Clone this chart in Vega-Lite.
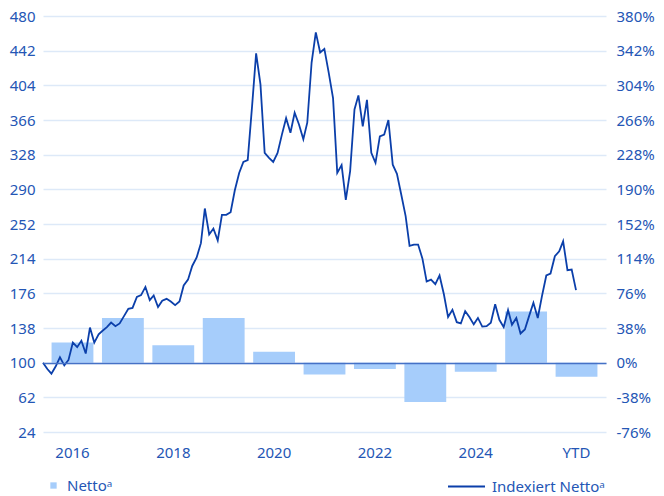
{
  "$schema": "https://vega.github.io/schema/vega-lite/v6.json",
  "width": 563,
  "height": 416,
  "autosize": {"type": "none"},
  "padding": {"left": 43, "top": 16, "right": 58, "bottom": 64},
  "background": "white",
  "config": {
    "font": "Noto Sans",
    "view": {"stroke": null},
    "axis": {"labelFont": "Noto Sans", "labelFontSize": 15, "labelColor": "#2456b5", "ticks": false, "tickSize": 0, "domain": false, "title": null, "labelOverlap": false},
    "legend": {"labelFont": "Noto Sans", "labelFontSize": 15, "labelColor": "#2456b5", "padding": 0, "title": null}
  },
  "datasets": {
    "bars": [
      {"year": "2016", "netto": 22},
      {"year": "2017", "netto": 49},
      {"year": "2018", "netto": 19},
      {"year": "2019", "netto": 49},
      {"year": "2020", "netto": 12},
      {"year": "2021", "netto": -13},
      {"year": "2022", "netto": -7},
      {"year": "2023", "netto": -43},
      {"year": "2024", "netto": -10},
      {"year": "2025", "netto": 56},
      {"year": "YTD", "netto": -15.5}
    ],
    "line": [
      {"date": "2016-01-01", "index": 100},
      {"date": "2016-02-01", "index": 93},
      {"date": "2016-03-01", "index": 88},
      {"date": "2016-04-01", "index": 96},
      {"date": "2016-05-01", "index": 106},
      {"date": "2016-06-01", "index": 97},
      {"date": "2016-07-01", "index": 103},
      {"date": "2016-08-01", "index": 122},
      {"date": "2016-09-01", "index": 117},
      {"date": "2016-10-01", "index": 124},
      {"date": "2016-11-01", "index": 110},
      {"date": "2016-12-01", "index": 138.5},
      {"date": "2017-01-01", "index": 122},
      {"date": "2017-02-01", "index": 131},
      {"date": "2017-03-01", "index": 135},
      {"date": "2017-04-01", "index": 139},
      {"date": "2017-05-01", "index": 144},
      {"date": "2017-06-01", "index": 140},
      {"date": "2017-07-01", "index": 143},
      {"date": "2017-08-01", "index": 151},
      {"date": "2017-09-01", "index": 159},
      {"date": "2017-10-01", "index": 160},
      {"date": "2017-11-01", "index": 172},
      {"date": "2017-12-01", "index": 174},
      {"date": "2018-01-01", "index": 183},
      {"date": "2018-02-01", "index": 168.5},
      {"date": "2018-03-01", "index": 173.6},
      {"date": "2018-04-01", "index": 161},
      {"date": "2018-05-01", "index": 168},
      {"date": "2018-06-01", "index": 170},
      {"date": "2018-07-01", "index": 167},
      {"date": "2018-08-01", "index": 163},
      {"date": "2018-09-01", "index": 167},
      {"date": "2018-10-01", "index": 184.6},
      {"date": "2018-11-01", "index": 191},
      {"date": "2018-12-01", "index": 206},
      {"date": "2019-01-01", "index": 215},
      {"date": "2019-02-01", "index": 231},
      {"date": "2019-03-01", "index": 269},
      {"date": "2019-04-01", "index": 240.5},
      {"date": "2019-05-01", "index": 247},
      {"date": "2019-06-01", "index": 234},
      {"date": "2019-07-01", "index": 262},
      {"date": "2019-08-01", "index": 262},
      {"date": "2019-09-01", "index": 265},
      {"date": "2019-10-01", "index": 289},
      {"date": "2019-11-01", "index": 308},
      {"date": "2019-12-01", "index": 320},
      {"date": "2020-01-01", "index": 322},
      {"date": "2020-02-01", "index": 381},
      {"date": "2020-03-01", "index": 439},
      {"date": "2020-04-01", "index": 405},
      {"date": "2020-05-01", "index": 330},
      {"date": "2020-06-01", "index": 324.5},
      {"date": "2020-07-01", "index": 320},
      {"date": "2020-08-01", "index": 330},
      {"date": "2020-09-01", "index": 350},
      {"date": "2020-10-01", "index": 368},
      {"date": "2020-11-01", "index": 352},
      {"date": "2020-12-01", "index": 374},
      {"date": "2021-01-01", "index": 361},
      {"date": "2021-02-01", "index": 345},
      {"date": "2021-03-01", "index": 363},
      {"date": "2021-04-01", "index": 429},
      {"date": "2021-05-01", "index": 462},
      {"date": "2021-06-01", "index": 440},
      {"date": "2021-07-01", "index": 444},
      {"date": "2021-08-01", "index": 418},
      {"date": "2021-09-01", "index": 390},
      {"date": "2021-10-01", "index": 308},
      {"date": "2021-11-01", "index": 316.5},
      {"date": "2021-12-01", "index": 278.5},
      {"date": "2022-01-01", "index": 310},
      {"date": "2022-02-01", "index": 377.5},
      {"date": "2022-03-01", "index": 393},
      {"date": "2022-04-01", "index": 359},
      {"date": "2022-05-01", "index": 388},
      {"date": "2022-06-01", "index": 330},
      {"date": "2022-07-01", "index": 319},
      {"date": "2022-08-01", "index": 348},
      {"date": "2022-09-01", "index": 350},
      {"date": "2022-10-01", "index": 366},
      {"date": "2022-11-01", "index": 317},
      {"date": "2022-12-01", "index": 307},
      {"date": "2023-01-01", "index": 284},
      {"date": "2023-02-01", "index": 260.6},
      {"date": "2023-03-01", "index": 228},
      {"date": "2023-04-01", "index": 229.5},
      {"date": "2023-05-01", "index": 229.5},
      {"date": "2023-06-01", "index": 214},
      {"date": "2023-07-01", "index": 189},
      {"date": "2023-08-01", "index": 191},
      {"date": "2023-09-01", "index": 186},
      {"date": "2023-10-01", "index": 195.6},
      {"date": "2023-11-01", "index": 175},
      {"date": "2023-12-01", "index": 150},
      {"date": "2024-01-01", "index": 158},
      {"date": "2024-02-01", "index": 144.4},
      {"date": "2024-03-01", "index": 143},
      {"date": "2024-04-01", "index": 156.5},
      {"date": "2024-05-01", "index": 150},
      {"date": "2024-06-01", "index": 142},
      {"date": "2024-07-01", "index": 149},
      {"date": "2024-08-01", "index": 139.5},
      {"date": "2024-09-01", "index": 140},
      {"date": "2024-10-01", "index": 143.7},
      {"date": "2024-11-01", "index": 164},
      {"date": "2024-12-01", "index": 147},
      {"date": "2025-01-01", "index": 139},
      {"date": "2025-02-01", "index": 157.6},
      {"date": "2025-03-01", "index": 141.5},
      {"date": "2025-04-01", "index": 149},
      {"date": "2025-05-01", "index": 132},
      {"date": "2025-06-01", "index": 136.4},
      {"date": "2025-07-01", "index": 151},
      {"date": "2025-08-01", "index": 165.6},
      {"date": "2025-09-01", "index": 149},
      {"date": "2025-10-01", "index": 173},
      {"date": "2025-11-01", "index": 195.6},
      {"date": "2025-12-01", "index": 197.7},
      {"date": "2026-01-01", "index": 216.7},
      {"date": "2026-02-01", "index": 222},
      {"date": "2026-03-01", "index": 233},
      {"date": "2026-04-01", "index": 201.4},
      {"date": "2026-05-01", "index": 202},
      {"date": "2026-06-01", "index": 179.5}
    ]
  },
  "layer": [
    {
      "data": {"name": "bars"},
      "mark": {"type": "bar"},
      "encoding": {
        "x": {
          "field": "year", "type": "nominal", "sort": null,
          "scale": {"paddingInner": 0.17, "paddingOuter": 0.17},
          "axis": {"values": ["2016", "2018", "2020", "2022", "2024", "YTD"], "labelAngle": 0, "labelPadding": 13, "grid": false}
        },
        "y": {
          "field": "netto", "type": "quantitative",
          "scale": {"domain": [-76, 380], "nice": false, "zero": false},
          "axis": {
            "orient": "right",
            "values": [-76, -38, 0, 38, 76, 114, 152, 190, 228, 266, 304, 342, 380],
            "labelExpr": "datum.value + '%'",
            "grid": true,
            "gridWidth": 1.5,
            "gridColor": {"condition": {"test": "datum.value === 0", "value": "#4571c6"}, "value": "transparent"},
            "zindex": 1,
            "labelPadding": 10
          }
        },
        "fill": {
          "datum": "Nettoᵃ",
          "scale": {"range": ["#a6cdfb"]},
          "legend": {"orient": "none", "legendX": 3, "legendY": 462, "symbolType": "square", "symbolSize": 40, "labelOffset": 6}
        }
      }
    },
    {
      "data": {"name": "line"},
      "mark": {"type": "line", "strokeWidth": 1.8},
      "encoding": {
        "x": {
          "field": "date", "type": "temporal",
          "scale": {"type": "utc", "domain": [{"year": 2016, "month": 1, "date": 1, "utc": true}, {"year": 2027, "month": 1, "date": 1, "utc": true}]},
          "axis": null
        },
        "y": {
          "field": "index", "type": "quantitative",
          "scale": {"domain": [24, 480], "nice": false, "zero": false},
          "axis": {"orient": "left", "values": [24, 62, 100, 138, 176, 214, 252, 290, 328, 366, 404, 442, 480], "labelOverlap": false, "grid": true, "gridColor": "#dde9f8", "gridWidth": 1.5, "labelPadding": 8}
        },
        "stroke": {
          "datum": "Indexiert Nettoᵃ",
          "scale": {"range": ["#0b3faa"]},
          "legend": {"orient": "none", "legendX": 404, "legendY": 451, "symbolType": "stroke", "symbolSize": 1369, "symbolStrokeWidth": 1.8, "labelOffset": 6}
        }
      }
    }
  ],
  "resolve": {"scale": {"x": "independent", "y": "independent", "fill": "independent", "stroke": "independent"}}
}
